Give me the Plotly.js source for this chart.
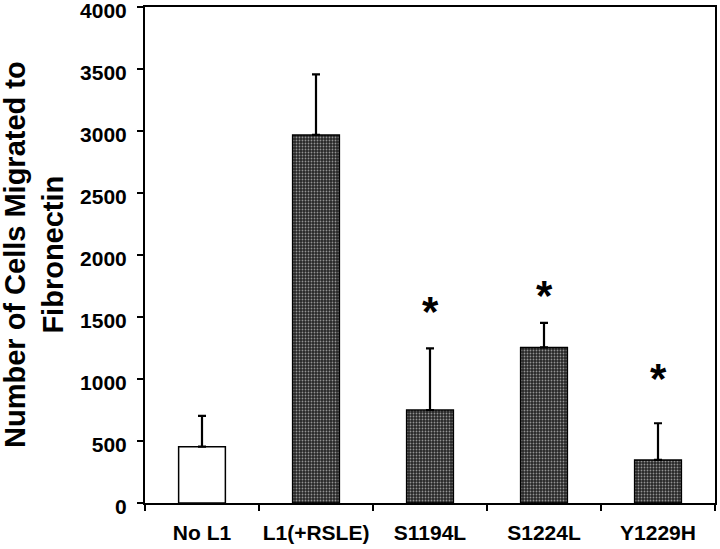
<!DOCTYPE html>
<html>
<head>
<meta charset="utf-8">
<script src="https://cdn.plot.ly/plotly-3.0.1.min.js"></script>
<style>html,body{margin:0;padding:0;background:#fff;}#chart{width:720px;height:549px;}</style>
</head>
<body>
<div id="chart"></div>
<script>
// Data
var categories = ["No L1", "L1(+RSLE)", "S1194L", "S1224L", "Y1229H"];
var cellsMigrated = [454, 2968, 750, 1255, 347];
var errorPlus = [248, 489, 497, 197, 296];
var significant = [false, false, true, true, true];
var starY = [null, null, 1623, 1758, 1086];
var yTickValues = [0, 500, 1000, 1500, 2000, 2500, 3000, 3500, 4000];
var yTitleText = "Number of Cells Migrated to<br>Fibronectin";

var fillColors = categories.map(function(c, i){ return i === 0 ? "#ffffff" : "#262626"; });
var patternShapes = categories.map(function(c, i){ return i === 0 ? "" : "."; });

var trace = {
  type: "bar",
  x: categories,
  y: cellsMigrated,
  width: 0.41,
  marker: {
    color: fillColors,
    line: {color: "#000", width: 1.5},
    pattern: {shape: patternShapes, fgcolor: "#808080", bgcolor: "#1e1e1e", size: 3, solidity: 0.3, fillmode: "overlay"}
  },
  error_y: {
    type: "data",
    symmetric: false,
    array: errorPlus,
    arrayminus: categories.map(function(){ return 0; }),
    color: "#000",
    thickness: 2.2,
    width: 4
  },
  hoverinfo: "skip"
};

var font = "Liberation Sans, Arial, Helvetica, sans-serif";
var annotations = [];
categories.forEach(function(c, i){
  if (significant[i]) {
    annotations.push({
      x: c, y: starY[i], xref: "x", yref: "y",
      text: "<b>*</b>", showarrow: false,
      font: {family: font, size: 42, color: "#000"},
      yanchor: "middle", yshift: -10
    });
  }
});
annotations.push({
  xref: "paper", yref: "paper", x: (34 - 145) / 570, y: 0.5,
  xanchor: "center", yanchor: "middle",
  text: yTitleText, textangle: -90, showarrow: false,
  font: {family: font, size: 29, weight: "bold", color: "#000"}
});

var layout = {
  width: 720, height: 549,
  margin: {l: 145, r: 5, t: 7, b: 46},
  paper_bgcolor: "#fff", plot_bgcolor: "#fff",
  showlegend: false,
  bargap: 0.59,
  font: {family: font, color: "#000"},
  xaxis: {
    type: "category",
    showline: true, linecolor: "#000", linewidth: 2, mirror: true,
    ticks: "outside", tickson: "boundaries", ticklen: 6, tickwidth: 2, tickcolor: "#000",
    tickangle: 0,
    tickfont: {family: font, size: 21, weight: "bold", color: "#000"},
    ticklabelstandoff: 10,
    showgrid: false, zeroline: false
  },
  yaxis: {
    range: [0, 4000],
    tickvals: yTickValues,
    ticktext: yTickValues.map(String),
    ticklabeloverflow: "allow",
    ticklabelshift: 4,
    showline: true, linecolor: "#000", linewidth: 2, mirror: true,
    ticks: "outside", ticklen: 6, tickwidth: 2, tickcolor: "#000",
    tickfont: {family: font, size: 21, weight: "bold", color: "#000"},
    ticklabelstandoff: 6,
    showgrid: false, zeroline: false
  },
  annotations: annotations
};

Plotly.newPlot("chart", [trace], layout, {staticPlot: true, displayModeBar: false});
</script>
</body>
</html>
